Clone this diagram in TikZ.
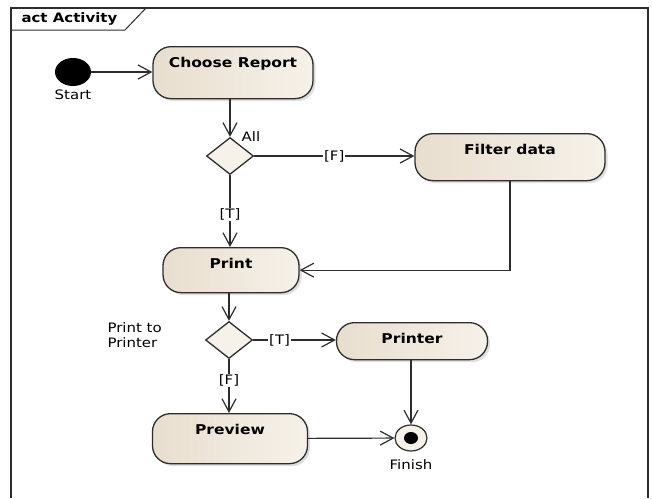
\documentclass[tikz,border=0pt]{standalone}
\usepackage{fontspec}
\setmainfont[FakeStretch=1.15]{DejaVu Sans}
\usetikzlibrary{arrows.meta, shapes.geometric, shadows}

\definecolor{actfill}{RGB}{246,241,233}
\definecolor{actfilldark}{RGB}{232,222,206}
\definecolor{actline}{RGB}{45,45,45}

\tikzset{
  action/.style = {draw = actline, line width = 1.3pt, rounded corners = 18pt, left color = actfilldark, right color = actfill, drop shadow = {opacity = .25, shadow xshift = 2.5pt, shadow yshift = -2.5pt}, font = \fontsize{13.5}{15}\selectfont\bfseries, anchor = north, inner xsep = 0pt, inner ysep = 8.5pt, text height = 12pt},
  decision/.style = {diamond, draw = actline, line width = 1.3pt, fill = actfill, inner sep = 0pt, minimum width = 47pt, minimum height = 37pt},
  flow/.style = {draw = actline, line width = 1.2pt, -{Straight Barb[length = 13pt, width = 14pt, line width = 1.2pt]}},
  guard/.style = {fill = white, inner sep = 1pt}
}

\begin{document}
\begin{tikzpicture}[x = 1pt, y = -1pt, font = \fontsize{13}{15}\selectfont]
\useasboundingbox (0,0) rectangle (652,498);
% frame
\draw [actline, line width = 1.6pt] (11,498) -- (11,8) -- (648,8) -- (648,498);
\draw [actline, line width = 1pt] (11,30) -- (125,30) -- (146,8);
\node [anchor = west, font = \fontsize{13}{15}\selectfont\bfseries] (frametitle) at (18,19) {act Activity};

\node [ellipse, fill = black, minimum width = 36pt, minimum height = 28pt, inner sep = 0, label = {[label distance = 0pt] below:Start}] (start) at (73,72) {};
\node [action, minimum width = 160pt, text depth = 23pt] (choose) at (233,46) {Choose Report};
\node [decision] (dec1) at (230,156) {};
\node (alllbl) at (251,137) {All};
\node [action, minimum width = 190pt, text depth = 18pt] (filter) at (510,133) {Filter data};
\node [action, minimum width = 136pt, text depth = 16pt] (print) at (231,247) {Print};
\node [decision] (dec2) at (229,340) {};
\node [anchor = west, align = left] (dec2lbl) at (104,335) {Print to\\Printer};
\node [action, minimum width = 151pt, text depth = 8pt] (printer) at (412,322) {Printer};
\node [action, minimum width = 155pt, text depth = 21pt] (preview) at (230,413) {Preview};
\node [ellipse, draw = actline, line width = 1.2pt, fill = actfill, minimum width = 32pt, minimum height = 26pt, inner sep = 0, label = {[label distance = 4pt] below:Finish}] (final) at (411,438) {};
\fill (final) ellipse [x radius = 7pt, y radius = 6pt];

\draw [flow] (start) -- (start -| choose.west);
\draw [flow] (choose.south -| dec1) -- (dec1);
\draw [flow] (dec1) -- (dec1 -| filter.west) node[guard, pos = .5]{[F]};
\draw [flow] (dec1) -- (dec1 |- print.north) node[guard, pos = .55]{[T]};
\draw [flow] (filter.south) |- (print.east);
\draw [flow] (print.south -| dec2) -- (dec2);
\draw [flow] (dec2) -- (dec2 -| printer.west) node[guard, pos = .32]{[T]};
\draw [flow] (dec2) -- (dec2 |- preview.north) node[guard, pos = .4]{[F]};
\draw [flow] (preview) -- (final);
\draw [flow] (final |- printer.south) -- (final);
\end{tikzpicture}
\end{document}
